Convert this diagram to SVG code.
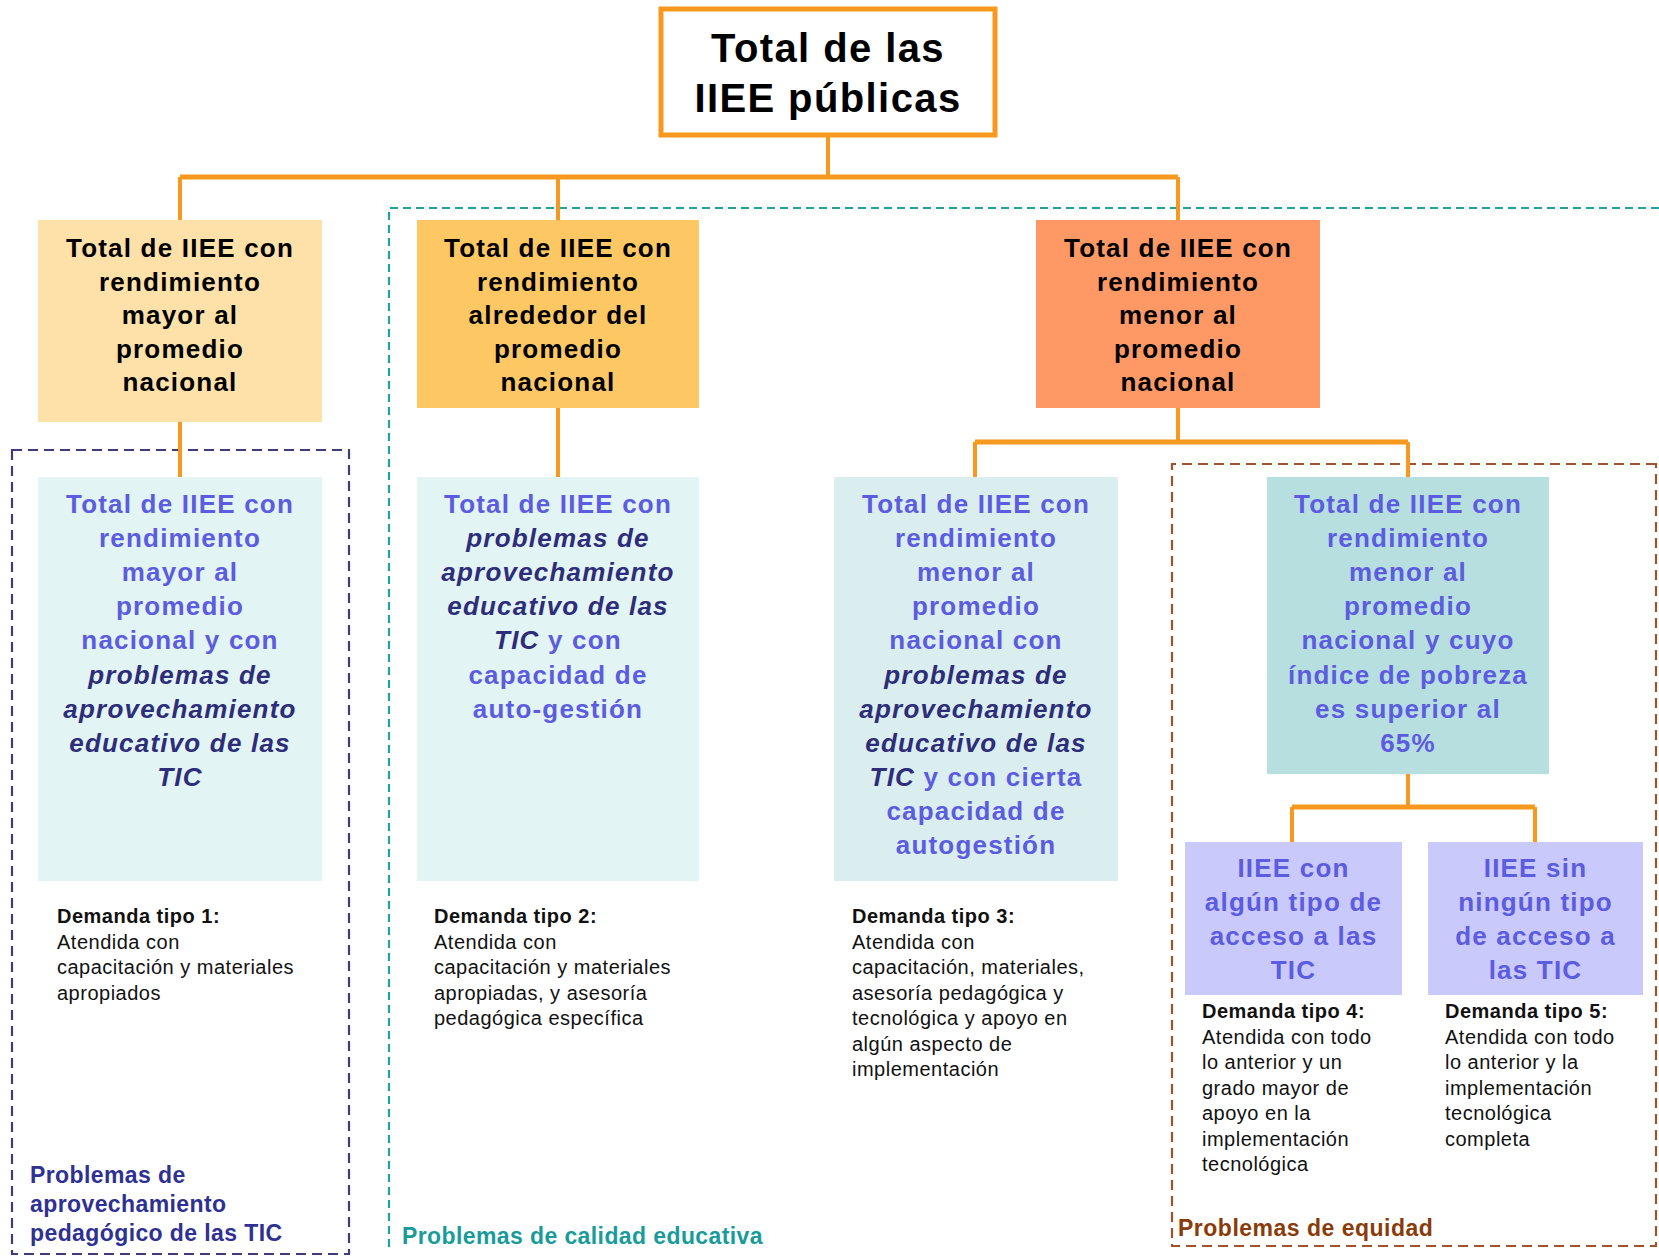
<svg xmlns="http://www.w3.org/2000/svg" width="1659" height="1256" viewBox="0 0 1659 1256">
<style>
text{font-family:"Liberation Sans",Arial,Helvetica,sans-serif}
.t1{font-weight:bold;font-size:40px;letter-spacing:1.4px;text-anchor:middle;fill:#000}
.h{font-weight:bold;font-size:26px;letter-spacing:1.2px;text-anchor:middle;fill:#000}
.b{font-weight:bold;font-size:26px;letter-spacing:1.2px;text-anchor:middle;fill:#5C5CE0}
.it{font-style:italic;fill:#2D2D7A}
.dm{font-size:20px;letter-spacing:0.5px;fill:#111}
.dmb{font-weight:bold}
.lab{font-weight:bold;font-size:23px}
.con{fill:none;stroke:#F7981F;stroke-linecap:butt}
.v{stroke-width:4}
.hz{stroke-width:5}
</style>
<rect width="1659" height="1256" fill="#fff"/>
<g id="regions" fill="none" stroke-width="2.2">
<rect id="region-aprovechamiento" x="12" y="450" width="337" height="804" stroke="#3D3D7A" stroke-dasharray="10 6"/>
<path id="region-calidad" d="M1659,208 H389 V1252" stroke="#23A0A0" stroke-dasharray="8 5"/>
<path id="region-equidad" d="M1656,464 H1172 V1246 H1656 Z" stroke="#A0522D" stroke-dasharray="10 6"/>
</g>
<g id="connectors">
<path class="con v" d="M828,137 V177"/>
<path class="con hz" d="M180,177 H1178"/>
<path class="con v" d="M180,177 V220 M558,177 V220 M1178,177 V220"/>
<path class="con v" d="M180,422 V477 M558,408 V477"/>
<path class="con v" d="M1178,408 V442"/>
<path class="con hz" d="M975,442 H1408"/>
<path class="con v" d="M975,442 V477 M1408,442 V477"/>
<path class="con v" d="M1408,774 V807"/>
<path class="con hz" d="M1292,807 H1535"/>
<path class="con v" d="M1292,807 V842 M1535,807 V842"/>
</g>
<g id="root">
<rect x="661" y="9" width="334" height="126" fill="#fff" stroke="#F7981F" stroke-width="5"/>
<text class="t1" x="828" y="62">Total de las</text>
<text class="t1" x="828" y="112">IIEE públicas</text>
</g>
<g id="mayor">
<rect x="38" y="220" width="284" height="202" fill="#FEE1A8"/>
<text class="h" x="180" y="257">Total de IIEE con</text>
<text class="h" x="180" y="290.5">rendimiento</text>
<text class="h" x="180" y="324">mayor al</text>
<text class="h" x="180" y="357.5">promedio</text>
<text class="h" x="180" y="391">nacional</text>
</g>
<g id="alrededor">
<rect x="417" y="220" width="282" height="188" fill="#FDC864"/>
<text class="h" x="558" y="257">Total de IIEE con</text>
<text class="h" x="558" y="290.5">rendimiento</text>
<text class="h" x="558" y="324">alrededor del</text>
<text class="h" x="558" y="357.5">promedio</text>
<text class="h" x="558" y="391">nacional</text>
</g>
<g id="menor">
<rect x="1036" y="220" width="284" height="188" fill="#FE9966"/>
<text class="h" x="1178" y="257">Total de IIEE con</text>
<text class="h" x="1178" y="290.5">rendimiento</text>
<text class="h" x="1178" y="324">menor al</text>
<text class="h" x="1178" y="357.5">promedio</text>
<text class="h" x="1178" y="391">nacional</text>
</g>
<g id="mayor-problemas">
<rect x="38" y="477" width="284" height="404" fill="#E3F4F4"/>
<text class="b" x="180" y="513">Total de IIEE con</text>
<text class="b" x="180" y="547.1">rendimiento</text>
<text class="b" x="180" y="581.2">mayor al</text>
<text class="b" x="180" y="615.3">promedio</text>
<text class="b" x="180" y="649.4">nacional y con</text>
<text class="b it" x="180" y="683.5">problemas de</text>
<text class="b it" x="180" y="717.6">aprovechamiento</text>
<text class="b it" x="180" y="751.7">educativo de las</text>
<text class="b it" x="180" y="785.8">TIC</text>
</g>
<g id="alrededor-problemas">
<rect x="417" y="477" width="282" height="404" fill="#E3F4F4"/>
<text class="b" x="558" y="513">Total de IIEE con</text>
<text class="b it" x="558" y="547.1">problemas de</text>
<text class="b it" x="558" y="581.2">aprovechamiento</text>
<text class="b it" x="558" y="615.3">educativo de las</text>
<text class="b" x="558" y="649.4"><tspan class="it">TIC</tspan> y con</text>
<text class="b" x="558" y="683.5">capacidad de</text>
<text class="b" x="558" y="717.6">auto-gestión</text>
</g>
<g id="menor-problemas">
<rect x="834" y="477" width="284" height="404" fill="#DAEEEF"/>
<text class="b" x="976" y="513">Total de IIEE con</text>
<text class="b" x="976" y="547.1">rendimiento</text>
<text class="b" x="976" y="581.2">menor al</text>
<text class="b" x="976" y="615.3">promedio</text>
<text class="b" x="976" y="649.4">nacional con</text>
<text class="b it" x="976" y="683.5">problemas de</text>
<text class="b it" x="976" y="717.6">aprovechamiento</text>
<text class="b it" x="976" y="751.7">educativo de las</text>
<text class="b" x="976" y="785.8"><tspan class="it">TIC</tspan> y con cierta</text>
<text class="b" x="976" y="819.9">capacidad de</text>
<text class="b" x="976" y="854">autogestión</text>
</g>
<g id="menor-pobreza">
<rect x="1267" y="477" width="282" height="297" fill="#B8DFE0"/>
<text class="b" x="1408" y="513">Total de IIEE con</text>
<text class="b" x="1408" y="547.1">rendimiento</text>
<text class="b" x="1408" y="581.2">menor al</text>
<text class="b" x="1408" y="615.3">promedio</text>
<text class="b" x="1408" y="649.4">nacional y cuyo</text>
<text class="b" x="1408" y="683.5">índice de pobreza</text>
<text class="b" x="1408" y="717.6">es superior al</text>
<text class="b" x="1408" y="751.7">65%</text>
</g>
<g id="con-acceso">
<rect x="1185" y="842" width="217" height="153" fill="#C9C9FB"/>
<text class="b" x="1293.5" y="877">IIEE con</text>
<text class="b" x="1293.5" y="911">algún tipo de</text>
<text class="b" x="1293.5" y="945">acceso a las</text>
<text class="b" x="1293.5" y="979">TIC</text>
</g>
<g id="sin-acceso">
<rect x="1428" y="842" width="215" height="153" fill="#C9C9FB"/>
<text class="b" x="1535.5" y="877">IIEE sin</text>
<text class="b" x="1535.5" y="911">ningún tipo</text>
<text class="b" x="1535.5" y="945">de acceso a</text>
<text class="b" x="1535.5" y="979">las TIC</text>
</g>
<g id="demanda1">
<text class="dm dmb" x="57" y="923">Demanda tipo 1:</text>
<text class="dm" x="57" y="948.5">Atendida con</text>
<text class="dm" x="57" y="974">capacitación y materiales</text>
<text class="dm" x="57" y="999.5">apropiados</text>
</g>
<g id="demanda2">
<text class="dm dmb" x="434" y="923">Demanda tipo 2:</text>
<text class="dm" x="434" y="948.5">Atendida con</text>
<text class="dm" x="434" y="974">capacitación y materiales</text>
<text class="dm" x="434" y="999.5">apropiadas, y asesoría</text>
<text class="dm" x="434" y="1025">pedagógica específica</text>
</g>
<g id="demanda3">
<text class="dm dmb" x="852" y="923">Demanda tipo 3:</text>
<text class="dm" x="852" y="948.5">Atendida con</text>
<text class="dm" x="852" y="974">capacitación, materiales,</text>
<text class="dm" x="852" y="999.5">asesoría pedagógica y</text>
<text class="dm" x="852" y="1025">tecnológica y apoyo en</text>
<text class="dm" x="852" y="1050.5">algún aspecto de</text>
<text class="dm" x="852" y="1076">implementación</text>
</g>
<g id="demanda4">
<text class="dm dmb" x="1202" y="1018">Demanda tipo 4:</text>
<text class="dm" x="1202" y="1043.5">Atendida con todo</text>
<text class="dm" x="1202" y="1069">lo anterior y un</text>
<text class="dm" x="1202" y="1094.5">grado mayor de</text>
<text class="dm" x="1202" y="1120">apoyo en la</text>
<text class="dm" x="1202" y="1145.5">implementación</text>
<text class="dm" x="1202" y="1171">tecnológica</text>
</g>
<g id="demanda5">
<text class="dm dmb" x="1445" y="1018">Demanda tipo 5:</text>
<text class="dm" x="1445" y="1043.5">Atendida con todo</text>
<text class="dm" x="1445" y="1069">lo anterior y la</text>
<text class="dm" x="1445" y="1094.5">implementación</text>
<text class="dm" x="1445" y="1120">tecnológica</text>
<text class="dm" x="1445" y="1145.5">completa</text>
</g>
<g id="labels">
<text class="lab" x="30" y="1183" fill="#2E3192" letter-spacing="0.4">Problemas de</text>
<text class="lab" x="30" y="1212" fill="#2E3192" letter-spacing="0.4">aprovechamiento</text>
<text class="lab" x="30" y="1240.5" fill="#2E3192" letter-spacing="0.4">pedagógico de las TIC</text>
<text class="lab" x="402" y="1244" fill="#1A9B9B" letter-spacing="0.4">Problemas de calidad educativa</text>
<text class="lab" x="1178" y="1236" fill="#8B3A0A" letter-spacing="0.5">Problemas de equidad</text>
</g>
</svg>
